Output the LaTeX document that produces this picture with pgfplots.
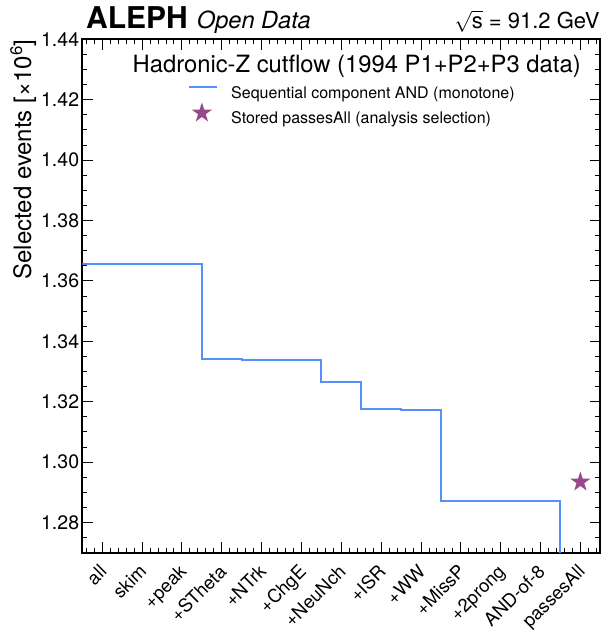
\documentclass[border=0pt]{standalone}
\usepackage{fontspec}
\setmainfont{TeX Gyre Heros}
\usepackage{pgfplots}
\pgfplotsset{compat=1.18}
\definecolor{lineblue}{HTML}{5790FC}
\definecolor{starpurple}{HTML}{964A8B}
\pgfdeclareplotmark{fstar}{%
  \pgfpathmoveto{\pgfpointpolar{90}{\pgfplotmarksize}}%
  \pgfpathlineto{\pgfpointpolar{126}{0.382\pgfplotmarksize}}%
  \pgfpathlineto{\pgfpointpolar{162}{\pgfplotmarksize}}%
  \pgfpathlineto{\pgfpointpolar{198}{0.382\pgfplotmarksize}}%
  \pgfpathlineto{\pgfpointpolar{234}{\pgfplotmarksize}}%
  \pgfpathlineto{\pgfpointpolar{270}{0.382\pgfplotmarksize}}%
  \pgfpathlineto{\pgfpointpolar{306}{\pgfplotmarksize}}%
  \pgfpathlineto{\pgfpointpolar{342}{0.382\pgfplotmarksize}}%
  \pgfpathlineto{\pgfpointpolar{18}{\pgfplotmarksize}}%
  \pgfpathlineto{\pgfpointpolar{54}{0.382\pgfplotmarksize}}%
  \pgfpathclose
  \pgfusepathqfill
}
\pgfplotsset{
  legline/.style={legend image code/.code={\draw[##1] (0pt,5.5pt) -- (27.7pt,5.5pt);}},
  legstar/.style={legend image code/.code={\draw[##1] plot coordinates {(12.4pt,5pt)};}},
}
\begin{document}
\begin{tikzpicture}
\begin{axis}[
  width=518pt, height=513.4pt, scale only axis,
  xmin=0, xmax=13, ymin=1.27, ymax=1.44,
  axis line style={line width=1.8pt},
  every tick/.style={black, line width=0.9pt},
  major tick length=10.5pt, minor tick length=5pt,
  tick align=inside,
  xtick={0.5,1.5,2.5,3.5,4.5,5.5,6.5,7.5,8.5,9.5,10.5,11.5,12.5},
  xticklabels={all,skim,+peak,+STheta,+NTrk,+ChgE,+NeuNch,+ISR,+WW,+MissP,+2prong,AND-of-8,passesAll},
  minor xtick={0.1,0.3,...,12.95},
  ytick={1.28,1.30,1.32,1.34,1.36,1.38,1.40,1.42,1.44},
  minor ytick={1.27,1.275,...,1.4401},
  scaled y ticks=false,
  /pgf/number format/assume math mode=true,
  yticklabel style={/pgf/number format/fixed, /pgf/number format/fixed zerofill, /pgf/number format/precision=2},
  tick label style={font=\fontsize{19.5}{20}\selectfont},
  xticklabel style={font=\fontsize{18.5}{19}\selectfont, xshift=-4pt, yshift=-10.5pt, rotate=45, anchor=north east, inner sep=0pt},
  yticklabel style={inner sep=0pt, xshift=-3pt},
  ylabel={Selected events [×10\textsuperscript{6}]},
  ylabel style={font=\fontsize{24}{24}\selectfont, at={(rel axis cs:-0.0886,1)}, anchor=south east, inner sep=0pt},
  legend style={at={(rel axis cs:0.2046,0.91624)}, anchor=north west, draw=none, fill=none,
    inner sep=0pt, row sep=0pt, column sep=13pt, font=\fontsize{16}{16}\selectfont,
    nodes={inner sep=0pt, text height=16pt, text depth=4pt}},
  legend cell align=left,
]
\addplot[const plot, color=lineblue, line width=2pt, legline]
  coordinates {(0,1.36562) (1,1.36562) (2,1.36562) (3,1.33408) (4,1.33375) (5,1.33365)
    (6,1.32648) (7,1.31745) (8,1.31730) (9,1.28727) (10,1.28727) (11,1.28727) (12,1.0)};
\addlegendentry{Sequential component AND (monotone)}
\addplot[only marks, mark=fstar, mark size=10.5pt, color=starpurple, legstar]
  coordinates {(12.5,1.29342)};
\addlegendentry{Stored passesAll (analysis selection)}
\node[anchor=base, font=\fontsize{23.8}{24}\selectfont, inner sep=0pt] at (rel axis cs:0.5297,0.9349) {Hadronic-Z cutflow (1994 P1+P2+P3 data)};
\end{axis}
\node[anchor=base west, inner sep=0pt, font=\fontsize{30}{30}\selectfont\bfseries] at ([xshift=3.7pt,yshift=11pt]current axis.north west) {ALEPH};
\node[anchor=base west, inner sep=0pt, font=\fontsize{23.6}{24}\selectfont\itshape] at ([xshift=114.4pt,yshift=11pt]current axis.north west) {Open Data};
\node[anchor=base east, inner sep=0pt, font=\fontsize{22}{22}\selectfont] at ([xshift=-0.5pt,yshift=11pt]current axis.north east) {$\sqrt{\mbox{s}}$ = 91.2 GeV};
\pgfresetboundingbox
\path[use as bounding box] ([xshift=-82.3pt,yshift=-78.3pt]current axis.south west) rectangle ([xshift=0.7pt,yshift=39.3pt]current axis.north east);
\end{tikzpicture}
\end{document}
